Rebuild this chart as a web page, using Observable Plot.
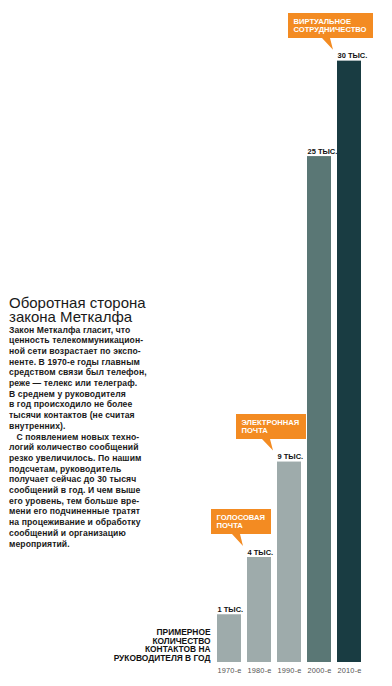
<!DOCTYPE html>
<html>
<head>
<meta charset="utf-8">
<script src="https://cdn.jsdelivr.net/npm/d3@7"></script>
<script src="https://cdn.jsdelivr.net/npm/@observablehq/plot@0.6"></script>
<style>
  html, body { margin: 0; padding: 0; background: #fff; }
  #wrap { position: relative; width: 392px; height: 686px; overflow: hidden; }
  #title { position: absolute; left: 9px; top: 295.5px; font: 15px/14px "Liberation Sans", Arial, sans-serif; color: #1a1a1a; white-space: nowrap; }
  #body { position: absolute; left: 9px; top: 324.5px; font: bold 8.6px/10.7px "Liberation Sans", Arial, sans-serif; letter-spacing: 0.1px; color: #1a1a1a; white-space: nowrap; }
  #chart { position: absolute; left: 0; top: 0; }
</style>
</head>
<body>
<div id="wrap">
  <div id="chart"></div>
  <div id="title">Оборотная сторона<br>закона Меткалфа</div>
  <div id="body">Закон Меткалфа гласит, что<br>ценность телекоммуникацион-<br>ной сети возрастает по экспо-<br>ненте. В 1970-е годы главным<br>средством связи был телефон,<br>реже — телекс или телеграф.<br>В среднем у руководителя<br>в год происходило не более<br>тысячи контактов (не считая<br>внутренних).<br>&nbsp;&nbsp;&nbsp;С появлением новых техно-<br>логий количество сообщений<br>резко увеличилось. По нашим<br>подсчетам, руководитель<br>получает сейчас до 30 тысяч<br>сообщений в год. И чем выше<br>его уровень, тем больше вре-<br>мени его подчиненные тратят<br>на процеживание и обработку<br>сообщений и организацию<br>мероприятий.</div>
</div>
<script>
const decades = ["1970-е", "1980-е", "1990-е", "2000-е", "2010-е"];
const contacts = [1, 4, 9, 25, 30];
const valueLabels = ["1 ТЫС.", "4 ТЫС.", "9 ТЫС.", "25 ТЫС.", "30 ТЫС."];
const palette = ["#9eabab", "#9eabab", "#9eabab", "#5a7775", "#193c42"];
const calloutDecades = ["1980-е", "1990-е", "2010-е"];
const calloutTexts = [["ГОЛОСОВАЯ", "ПОЧТА"], ["ЭЛЕКТРОННАЯ", "ПОЧТА"], ["ВИРТУАЛЬНОЕ", "СОТРУДНИЧЕСТВО"]];
const axisTitle = ["ПРИМЕРНОЕ", "КОЛИЧЕСТВО", "КОНТАКТОВ НА", "РУКОВОДИТЕЛЯ В ГОД"];
const BASE = -1.5;

const data = decades.map((d, i) => ({decade: d, value: contacts[i], label: valueLabels[i]}));
const ORANGE = "#f38b22";
const SANS = '"Liberation Sans", Arial, sans-serif';
const calloutFont = `bold 7.6px ${SANS}`;

const ctx = document.createElement("canvas").getContext("2d");
ctx.font = calloutFont;
const measure = s => ctx.measureText(s).width;

function callouts(index, scales) {
  const x = scales.x, y = scales.y;
  const g = d3.create("svg:g").attr("text-anchor", "start");
  calloutDecades.forEach((dec, i) => {
    const v = contacts[decades.indexOf(dec)];
    const tipX = x(dec) - 4;
    const tipY = y(v) - 11;
    const lines = calloutTexts[i];
    const w = Math.round(Math.max(...lines.map(measure)) + 12);
    const h = 25;
    const left = Math.round(tipX - 0.53 * w);
    const bottom = Math.round(tipY - 12);
    g.append("path")
      .attr("d", `M${left},${bottom - h}H${left + w}V${bottom}H${tipX - 3}L${tipX},${tipY}L${tipX - 11},${bottom}H${left}Z`)
      .attr("fill", ORANGE);
    lines.forEach((s, j) => {
      g.append("text")
        .attr("x", left + 5.5)
        .attr("y", bottom - h + 11.3 + j * 7.9)
        .attr("fill", "#fff")
        .style("font", calloutFont)
        .text(s);
    });
  });
  return g.node();
}

const chart = Plot.plot({
  width: 392,
  height: 686,
  marginLeft: 213,
  marginRight: 27.5,
  marginTop: 32,
  marginBottom: 24,
  style: {fontFamily: SANS, background: "transparent"},
  x: {domain: decades, paddingInner: 0.2, paddingOuter: 0.1, axis: null},
  y: {domain: [BASE, 31.5], axis: null},
  color: {domain: decades, range: palette},
  marks: [
    Plot.barY(data, {x: "decade", y1: BASE, y2: "value", fill: "decade"}),
    Plot.text(data, {x: "decade", y: "value", text: "label", textAnchor: "start", lineAnchor: "bottom", dx: -12, dy: -3, fontSize: 7.5, fontWeight: "bold", fill: "#111"}),
    Plot.text(data, {x: "decade", y: () => BASE, text: "decade", lineAnchor: "top", dy: 5.7, fontSize: 7.4, fill: "#555"}),
    Plot.text([axisTitle.join("\n")], {x: () => decades[0], y: () => BASE, text: d => d, textAnchor: "end", lineAnchor: "bottom", dx: -19, dy: -2, lineHeight: 1.0, fontSize: 8.4, fontWeight: "bold", fill: "#111"}),
    callouts
  ]
});
document.getElementById("chart").appendChild(chart);

// slight tracking for the decade labels
chart.querySelectorAll("text").forEach(el => { if (decades.includes(el.textContent)) el.setAttribute("letter-spacing", "0.2"); });
</script>
</body>
</html>
